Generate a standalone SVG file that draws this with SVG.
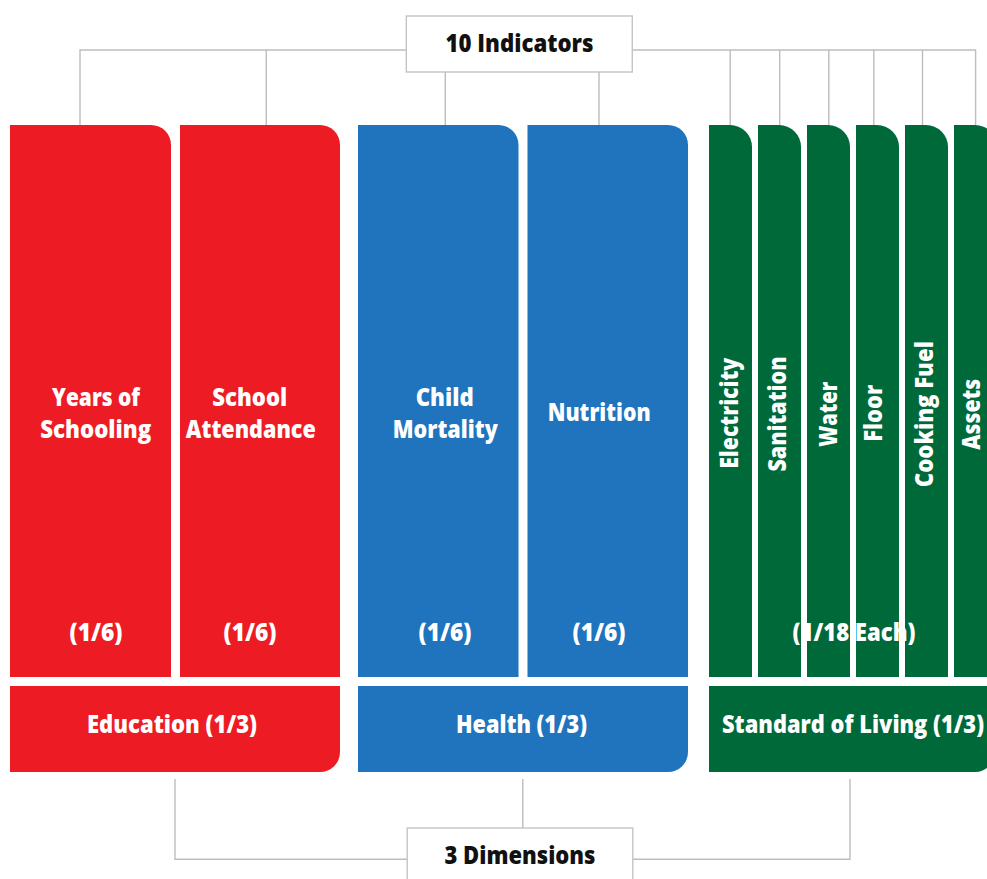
<svg xmlns="http://www.w3.org/2000/svg" width="987" height="879" viewBox="0 0 987 879">
  <style>
    .edu { fill: #ED1C24; }
    .hea { fill: #1F74BD; }
    .sol { fill: #00693A; }
    .link { fill: none; stroke: #BDBDBD; stroke-width: 1.4; }
    .hub { fill: #FFFFFF; stroke: #C4C4C4; stroke-width: 1.4; }
    .lbl { font-family: "Open Sans", "Liberation Sans", sans-serif; font-weight: 800; font-size: 24.5px; fill: #FFFFFF; text-anchor: middle; }
    .hub-lbl { font-family: "Open Sans", "Liberation Sans", sans-serif; font-weight: 800; font-size: 24.5px; fill: #111111; text-anchor: middle; }
  </style>

  <rect width="987" height="879" fill="#FFFFFF"/>

  <!-- connectors -->
  <g id="connectors">
    <!-- indicator bus -->
    <path class="link" d="M80,125 V50 H975.6 V125"/>
    <path class="link" d="M266.3,50 V125"/>
    <path class="link" d="M445.3,72 V125"/>
    <path class="link" d="M599,72 V125"/>
    <path class="link" d="M730.2,50 V125"/>
    <path class="link" d="M779.7,50 V125"/>
    <path class="link" d="M828.8,50 V125"/>
    <path class="link" d="M873.8,50 V125"/>
    <path class="link" d="M922.5,50 V125"/>
    <!-- dimension bus -->
    <path class="link" d="M175,779 V859.3 H850 V779"/>
    <path class="link" d="M522.8,779 V828"/>
  </g>

  <!-- hub: 10 Indicators -->
  <g id="hub-indicators">
    <rect class="hub" x="406.3" y="16" width="226" height="56"/>
    <text class="hub-lbl" x="519.5" y="51.7" textLength="148" lengthAdjust="spacingAndGlyphs">10 Indicators</text>
  </g>

  <!-- hub: 3 Dimensions -->
  <g id="hub-dimensions">
    <rect class="hub" x="407.2" y="828" width="225.6" height="70"/>
    <text class="hub-lbl" x="520" y="863.5" textLength="151" lengthAdjust="spacingAndGlyphs">3 Dimensions</text>
  </g>

  <!-- education indicators -->
  <g id="ind-years-of-schooling">
    <path class="edu" d="M10,125 H151 A20,20 0 0 1 171,145 V677 H10 Z"/>
    <text class="lbl" x="96" y="405.7" textLength="88" lengthAdjust="spacingAndGlyphs">Years of</text>
    <text class="lbl" x="95.7" y="438.3" textLength="111" lengthAdjust="spacingAndGlyphs">Schooling</text>
    <text class="lbl" x="96" y="641" textLength="53" lengthAdjust="spacingAndGlyphs">(1/6)</text>
  </g>
  <g id="ind-school-attendance">
    <path class="edu" d="M180,125 H320 A20,20 0 0 1 340,145 V677 H180 Z"/>
    <text class="lbl" x="249.7" y="405.7" textLength="75" lengthAdjust="spacingAndGlyphs">School</text>
    <text class="lbl" x="250.8" y="438.3" textLength="130" lengthAdjust="spacingAndGlyphs">Attendance</text>
    <text class="lbl" x="250" y="641" textLength="53" lengthAdjust="spacingAndGlyphs">(1/6)</text>
  </g>

  <!-- health indicators -->
  <g id="ind-child-mortality">
    <path class="hea" d="M358,125 H498.5 A20,20 0 0 1 518.5,145 V677 H358 Z"/>
    <text class="lbl" x="444.7" y="405.7" textLength="58" lengthAdjust="spacingAndGlyphs">Child</text>
    <text class="lbl" x="445.3" y="438.3" textLength="105" lengthAdjust="spacingAndGlyphs">Mortality</text>
    <text class="lbl" x="445" y="641" textLength="53" lengthAdjust="spacingAndGlyphs">(1/6)</text>
  </g>
  <g id="ind-nutrition">
    <path class="hea" d="M527.5,125 H668 A20,20 0 0 1 688,145 V677 H527.5 Z"/>
    <text class="lbl" x="599.2" y="421" textLength="103" lengthAdjust="spacingAndGlyphs">Nutrition</text>
    <text class="lbl" x="599" y="641" textLength="53" lengthAdjust="spacingAndGlyphs">(1/6)</text>
  </g>

  <!-- standard of living indicators -->
  <g id="ind-electricity">
    <path class="sol" d="M709,125 H730 A22,22 0 0 1 752,147 V677 H709 Z"/>
    <text class="lbl" transform="translate(738.3,413.3) rotate(-90)" textLength="111" lengthAdjust="spacingAndGlyphs">Electricity</text>
  </g>
  <g id="ind-sanitation">
    <path class="sol" d="M758,125 H779 A22,22 0 0 1 801,147 V677 H758 Z"/>
    <text class="lbl" transform="translate(785.5,414) rotate(-90)" textLength="115" lengthAdjust="spacingAndGlyphs">Sanitation</text>
  </g>
  <g id="ind-water">
    <path class="sol" d="M807,125 H828 A22,22 0 0 1 850,147 V677 H807 Z"/>
    <text class="lbl" transform="translate(836.7,414.2) rotate(-90)" textLength="65" lengthAdjust="spacingAndGlyphs">Water</text>
  </g>
  <g id="ind-floor">
    <path class="sol" d="M856,125 H877 A22,22 0 0 1 899,147 V677 H856 Z"/>
    <text class="lbl" transform="translate(882.3,413.3) rotate(-90)" textLength="57" lengthAdjust="spacingAndGlyphs">Floor</text>
  </g>
  <g id="ind-cooking-fuel">
    <path class="sol" d="M905,125 H926 A22,22 0 0 1 948,147 V677 H905 Z"/>
    <text class="lbl" transform="translate(932.7,414.2) rotate(-90)" textLength="146" lengthAdjust="spacingAndGlyphs">Cooking Fuel</text>
  </g>
  <g id="ind-assets">
    <path class="sol" d="M954,125 H975 A22,22 0 0 1 997,147 V677 H954 Z"/>
    <text class="lbl" transform="translate(980,414.3) rotate(-90)" textLength="71" lengthAdjust="spacingAndGlyphs">Assets</text>
  </g>
  <g id="sol-weight">
    <text class="lbl" x="854" y="641" textLength="123" lengthAdjust="spacingAndGlyphs">(1/18 Each)</text>
  </g>

  <!-- dimensions -->
  <g id="dim-education">
    <path class="edu" d="M10,686 H340 V752 A20,20 0 0 1 320,772 H10 Z"/>
    <text class="lbl" x="172" y="733.3" textLength="170" lengthAdjust="spacingAndGlyphs">Education (1/3)</text>
  </g>
  <g id="dim-health">
    <path class="hea" d="M358,686 H688 V752 A20,20 0 0 1 668,772 H358 Z"/>
    <text class="lbl" x="521.5" y="733.3" textLength="131" lengthAdjust="spacingAndGlyphs">Health (1/3)</text>
  </g>
  <g id="dim-standard-of-living">
    <path class="sol" d="M709,686 H995 V752 A20,20 0 0 1 975,772 H709 Z"/>
    <text class="lbl" x="853" y="733.3" textLength="262" lengthAdjust="spacingAndGlyphs">Standard of Living (1/3)</text>
  </g>
</svg>
